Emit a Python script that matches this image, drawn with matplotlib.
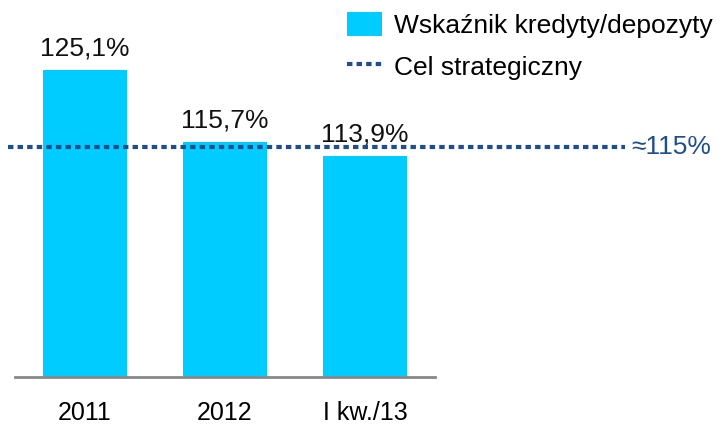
import matplotlib.pyplot as plt
from matplotlib.patches import Patch
from matplotlib.lines import Line2D

# data
categories = ["2011", "2012", "I kw./13"]
ratio = [125.1, 115.7, 113.9]
labels = ["125,1%", "115,7%", "113,9%"]
target = 115.0
target_label = "≈115%"

bar_color = "#00CCFF"
line_color = "#1F4E8C"

plt.rcParams["font.family"] = ["Liberation Sans", "DejaVu Sans"]

fig = plt.figure(figsize=(7.24, 4.33), dpi=100)
ax = fig.add_axes([15 / 724, 56 / 433, 420 / 724, 377 / 433])

x = list(range(len(categories)))
bars = ax.bar(x, ratio, width=0.6, color=bar_color, zorder=2)

for rect, lab in zip(bars, labels):
    ax.annotate(
        lab,
        (rect.get_x() + rect.get_width() / 2, rect.get_height()),
        xytext=(0, 7),
        textcoords="offset points",
        ha="center",
        va="bottom",
        fontsize=19,
        color="#111111",
    )

# target line runs past the plot area
ax.plot([-0.55, 3.86], [target, target], color=line_color, lw=3,
        linestyle=(0, (1.3, 1.0)), clip_on=False, zorder=3)
ax.text(3.90, target, target_label, color=line_color, fontsize=19,
        va="center", ha="left")

ax.set_xlim(-0.5, 2.5)
ax.set_ylim(85.1, 134.2)

ax.set_xticks(x)
ax.set_xticklabels(categories, fontsize=18)
ax.tick_params(axis="x", length=0, pad=17)
ax.set_yticks([])

for side in ["top", "right", "left"]:
    ax.spines[side].set_visible(False)
ax.spines["bottom"].set_color("#888888")
ax.spines["bottom"].set_linewidth(2)

handles = [
    Patch(facecolor=bar_color, edgecolor="none"),
    Line2D([0], [0], color=line_color, lw=3, linestyle=(0, (1.3, 1.0))),
]
fig.legend(
    handles,
    ["Wskaźnik kredyty/depozyty", "Cel strategiczny"],
    loc="upper left",
    bbox_to_anchor=(323 / 724, 1.027),
    frameon=False,
    fontsize=19,
    handlelength=1.35,
    handleheight=1.0,
    handletextpad=0.45,
    labelspacing=0.6,
)

plt.savefig("out.png", dpi=100)
